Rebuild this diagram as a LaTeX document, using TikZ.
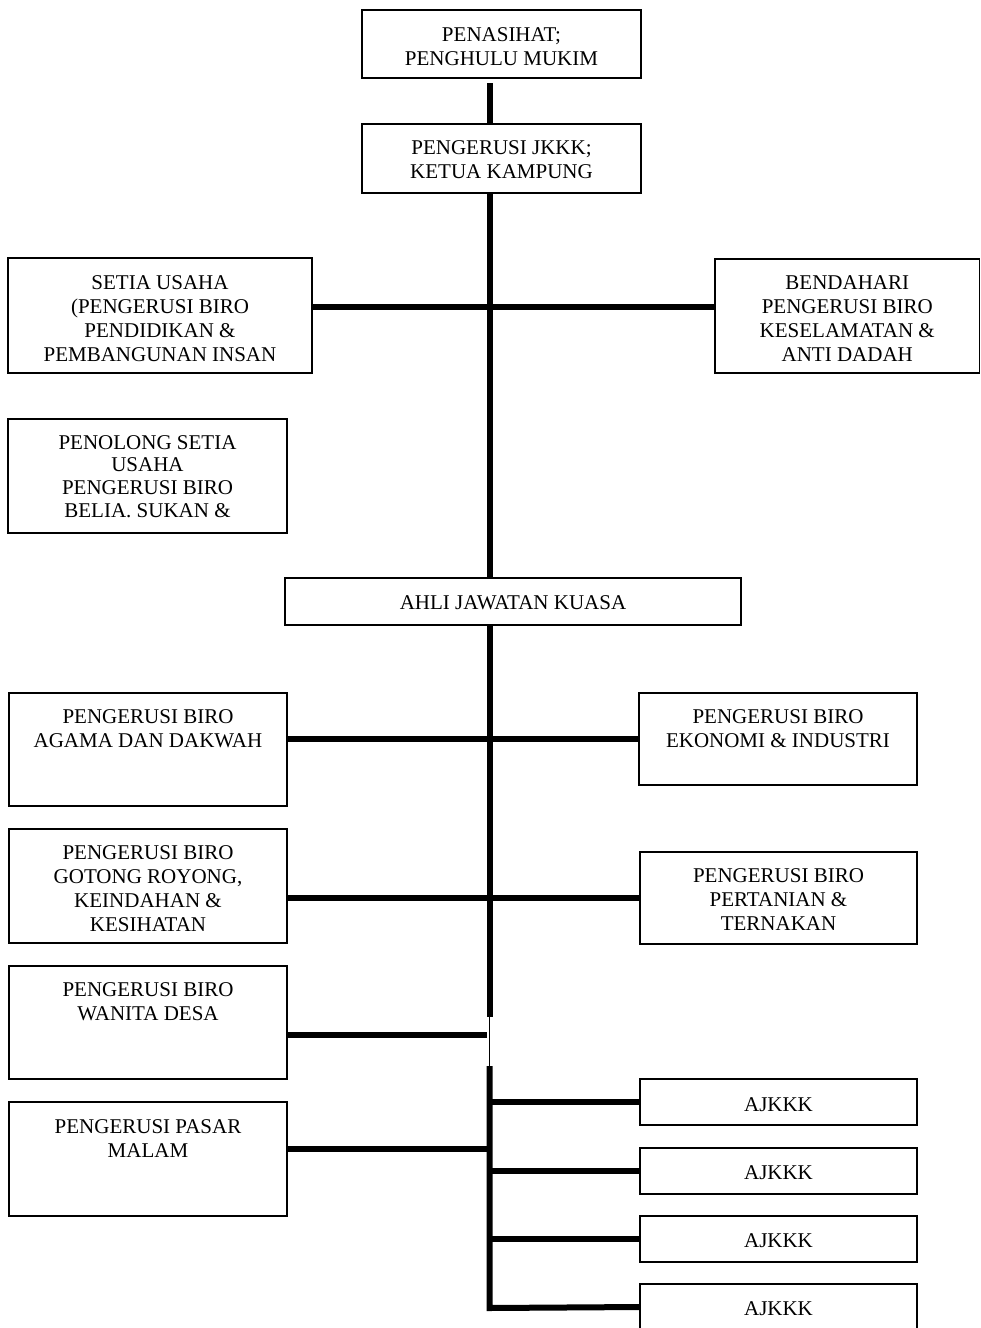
\documentclass[tikz,border=0pt]{standalone}
\usepackage{fontspec}
\setmainfont{Liberation Serif}
% #1 name, #2 x1, #3 y1, #4 x2, #5 y2, #6 centre of first text line, #7 text
\newcommand\obox[7]{%
  \node[box, minimum width={#4-#2}, minimum height={#5-#3}] (#1) at ({(#2+#4)/2},{(#3+#5)/2}) {};
  \node[txt] (#1-t) at ({(#2+#4)/2},{#6-9.8}) {\strut #7};}
\begin{document}
\begin{tikzpicture}[x=1pt,y=-1pt,
  box/.style={draw=black, line width=1.3pt, inner sep=0pt, rectangle},
  txt/.style={inner sep=0pt, align=center, font=\fontsize{21}{24}\selectfont, anchor=north},
  conn/.style={line width=6pt, draw=black},
  thinlink/.style={line width=1.6pt, draw=black}]
\useasboundingbox (0,0) rectangle (981,1328);
\fill[white] (0,0) rectangle (981,1328);

\obox{pen}{362}{10}{641}{78}{34}{PENASIHAT;\\PENGHULU MUKIM}
\obox{peng}{362}{124}{641}{193}{147}{PENGERUSI JKKK;\\KETUA KAMPUNG}
\obox{setia}{8}{258}{312}{373}{282}{SETIA USAHA\\(PENGERUSI BIRO\\PENDIDIKAN \&\\PEMBANGUNAN INSAN}
\obox{bend}{715}{259}{979.5}{373}{282}{BENDAHARI\\PENGERUSI BIRO\\KESELAMATAN \&\\ANTI DADAH}
\node[box, minimum width=279, minimum height=114] (peno) at (147.5,476) {};
\node[txt, font=\fontsize{21}{22.7}\selectfont] (peno-t) at (147.5,433.2) {\strut PENOLONG SETIA\\USAHA\\PENGERUSI BIRO\\BELIA. SUKAN \&};
\obox{ahli}{285}{578}{741}{625}{602}{AHLI JAWATAN KUASA}
\obox{agama}{9}{693}{287}{806}{716}{PENGERUSI BIRO\\AGAMA DAN DAKWAH}
\obox{ekon}{639}{693}{917}{785}{716}{PENGERUSI BIRO\\EKONOMI \& INDUSTRI}
\obox{got}{9}{829}{287}{943}{852}{PENGERUSI BIRO\\GOTONG ROYONG,\\KEINDAHAN \&\\KESIHATAN}
\obox{pert}{640}{852}{917}{944}{875}{PENGERUSI BIRO\\PERTANIAN \&\\TERNAKAN}
\obox{wan}{9}{966}{287}{1079}{989}{PENGERUSI BIRO\\WANITA DESA}
\obox{pas}{9}{1102}{287}{1216}{1126}{PENGERUSI PASAR\\MALAM}
\obox{aj1}{640}{1079}{917}{1125}{1104}{AJKKK}
\obox{aj2}{640}{1148}{917}{1194}{1172}{AJKKK}
\obox{aj3}{640}{1216}{917}{1262}{1240}{AJKKK}
\obox{aj4}{640}{1284}{917}{1330}{1308}{AJKKK}

% spine coordinates
\coordinate (s0) at (489.5,83);
\coordinate (brk1) at (489.5,1017);
\coordinate (brk2) at (489.5,1066);
\coordinate (bot) at (489.5,1308);
\coordinate (wanj) at (489.5,1035);
\coordinate (pasj) at (489.5,1149);

\draw[conn] (s0) -- (s0 |- peng.north);
\draw[conn] (s0 |- peng.south) -- (s0 |- ahli.north);
\draw[conn] ([yshift=8.5]setia.east) -- ([yshift=8.5]setia.east -| bend.west);
\draw[conn] (s0 |- ahli.south) -- (brk1);
\draw[thinlink] (brk1) -- (brk2);
\draw[conn, line join=miter] (brk2) -- (bot) -- (aj4.west);
\draw[conn] (ekon.west -| agama.east) -- (ekon.west);
\draw[conn] (pert.west -| got.east) -- (pert.west);
\draw[conn] (wanj -| wan.east) -- ([xshift=-3]wanj);
\draw[conn] (pasj -| pas.east) -- ([xshift=-3]pasj);
\draw[conn] (brk2 |- aj1.west) -- (aj1.west);
\draw[conn] (brk2 |- aj2.west) -- (aj2.west);
\draw[conn] (brk2 |- aj3.west) -- (aj3.west);
\end{tikzpicture}
\end{document}
